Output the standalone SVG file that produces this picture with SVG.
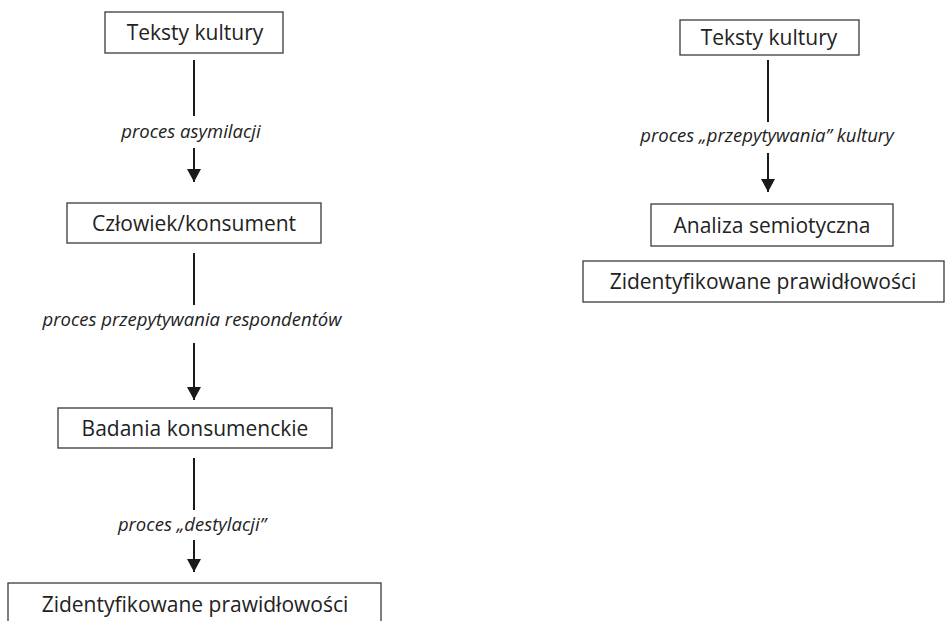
<svg xmlns="http://www.w3.org/2000/svg" width="947" height="621" viewBox="0 0 947 621">
<defs>
<marker id="arr" markerWidth="16" markerHeight="14" refX="13" refY="7" orient="auto" markerUnits="userSpaceOnUse">
<path d="M0,0 L13,7 L0,14 Z" fill="#1a1a1a"/>
</marker>
</defs>
<style>
.box{fill:#fff;stroke:#3a3a3a;stroke-width:1.3}
.t{font-family:"Open Sans",Lato,sans-serif;font-size:21px;fill:#222;text-anchor:middle}
.l{font-family:"Open Sans",Lato,sans-serif;font-size:18.5px;font-style:italic;fill:#222;text-anchor:middle}
.ln{stroke:#1a1a1a;stroke-width:2;fill:none}
</style>
<rect width="947" height="621" fill="#fff"/>
<g id="connectors">
<line class="ln" x1="194" y1="60" x2="194" y2="116"/>
<line class="ln" x1="194" y1="148" x2="194" y2="182" marker-end="url(#arr)"/>
<line class="ln" x1="194" y1="253" x2="194" y2="305"/>
<line class="ln" x1="194" y1="343" x2="194" y2="400" marker-end="url(#arr)"/>
<line class="ln" x1="194" y1="458" x2="194" y2="510"/>
<line class="ln" x1="194" y1="540" x2="194" y2="572" marker-end="url(#arr)"/>
<line class="ln" x1="768" y1="60" x2="768" y2="122"/>
<line class="ln" x1="768" y1="153" x2="768" y2="192" marker-end="url(#arr)"/>
<text class="l" x="191" y="138">proces asymilacji</text>
<text class="l" x="192" y="326">proces przepytywania respondentów</text>
<text class="l" x="192" y="531">proces „destylacji”</text>
<text class="l" x="767" y="142">proces „przepytywania” kultury</text>
</g>
<g id="n1"><rect class="box" x="105" y="12" width="178" height="41"/><text class="t" x="195" y="40">Teksty kultury</text></g>
<g id="n2"><rect class="box" x="67" y="203" width="254" height="40"/><text class="t" x="194" y="231">Człowiek/konsument</text></g>
<g id="n3"><rect class="box" x="58" y="408" width="274" height="40"/><text class="t" x="195" y="436">Badania konsumenckie</text></g>
<g id="n4"><rect class="box" x="8" y="583" width="373" height="50"/><text class="t" x="195" y="612">Zidentyfikowane prawidłowości</text></g>
<g id="n5"><rect class="box" x="680" y="20" width="179" height="35"/><text class="t" x="769" y="45">Teksty kultury</text></g>
<g id="n6"><rect class="box" x="651" y="204" width="242" height="42"/><text class="t" x="772" y="233">Analiza semiotyczna</text></g>
<g id="n7"><rect class="box" x="583" y="261" width="361" height="41"/><text class="t" x="763" y="289">Zidentyfikowane prawidłowości</text></g>
</svg>
